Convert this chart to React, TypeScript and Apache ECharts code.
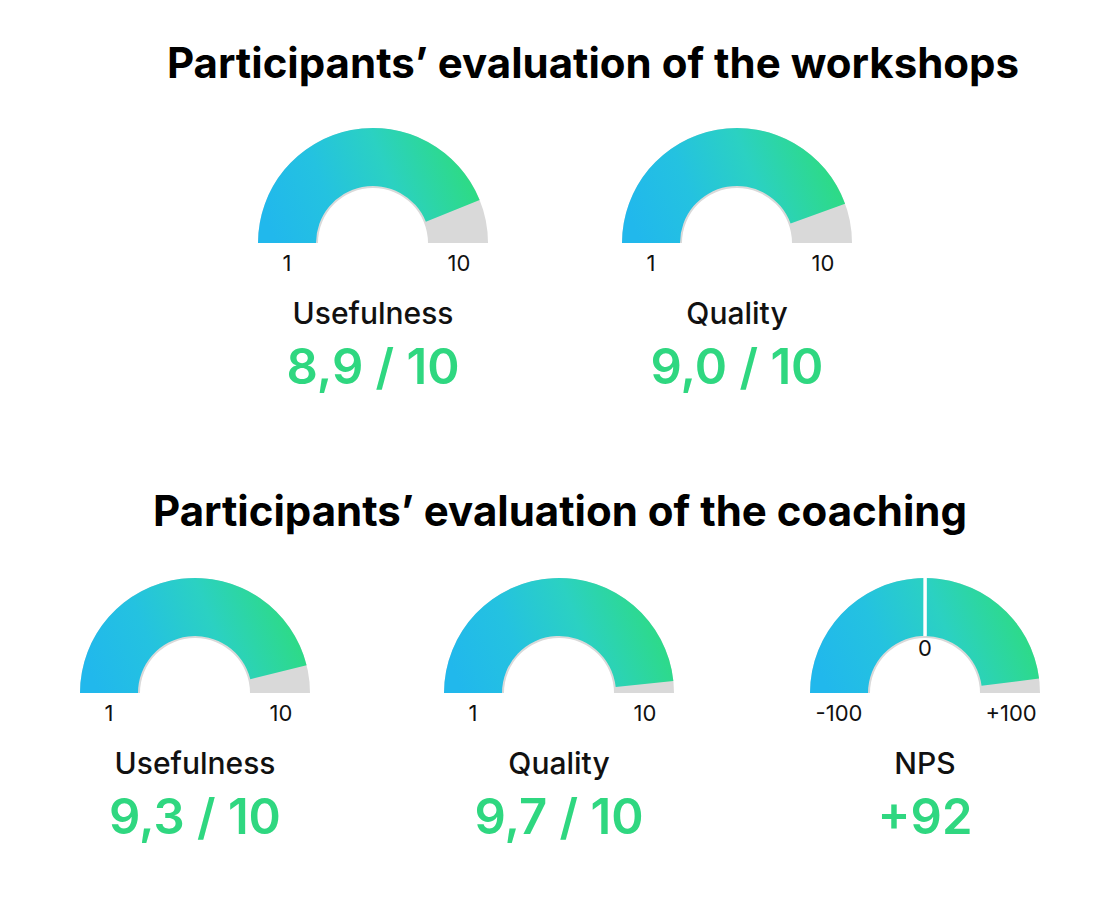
import React, { useEffect, useRef } from "react";
import * as echarts from "echarts";

const sectionTitles = ["Participants’ evaluation of the workshops", "Participants’ evaluation of the coaching"];
const gaugeNames = ["Usefulness", "Quality", "Usefulness", "Quality", "NPS"];
const gaugeValues = [8.9, 9.0, 9.3, 9.7, 92];
const gaugeMins = [1, 1, 1, 1, -100];
const gaugeMaxs = [10, 10, 10, 10, 100];
const minLabels = ["1", "1", "1", "1", "-100"];
const maxLabels = ["10", "10", "10", "10", "+100"];
const valueLabels = ["8,9 / 10", "9,0 / 10", "9,3 / 10", "9,7 / 10", "+92"];
const midLabels = ["", "", "", "", "0"];

// layout (positions)
const centers: [number, number][] = [
  [373, 243],
  [737, 243],
  [195, 693],
  [559, 693],
  [925, 693],
];
const R = 115;
const W = 58;
const GREEN = "#2fd780";
const FONT = "Inter, 'Noto Sans', sans-serif";

export default function App() {
  const ref = useRef<HTMLDivElement>(null);
  useEffect(() => {
    document.body.style.margin = "0";
    const chart = echarts.init(ref.current!, null, { renderer: "svg" });
    const series: any[] = [];
    const graphic: any[] = [];
    gaugeValues.forEach((v, i) => {
      const [cx, cy] = centers[i];
      series.push({
        type: "gauge",
        center: [cx, cy],
        radius: R,
        startAngle: 180,
        endAngle: 0,
        min: gaugeMins[i],
        max: gaugeMaxs[i],
        pointer: { show: false },
        axisLine: { lineStyle: { width: W + 2, color: [[1, "#d9d9d9"]] } },
        progress: {
          show: true,
          width: W,
          itemStyle: {
            color: new echarts.graphic.LinearGradient(0, 0.6, 1, 0.4, [
              { offset: 0, color: "#21b8ec" },
              { offset: 0.3, color: "#24c2e0" },
              { offset: 0.6, color: "#2bd1c2" },
              { offset: 1, color: "#2edc7c" },
            ]),
          },
        },
        axisTick: { show: false },
        splitLine: { show: false },
        axisLabel: { show: false },
        title: { show: false },
        detail: { show: false },
        data: [{ value: v, name: gaugeNames[i] }],
      });
      if (midLabels[i]) {
        series.push({
          type: "gauge",
          z: 5,
          center: [cx, cy],
          radius: R,
          startAngle: 90,
          endAngle: 89.9,
          min: 0,
          max: 1,
          splitNumber: 1,
          pointer: { show: false },
          axisLine: { show: true, lineStyle: { width: 0, color: [[1, "rgba(0,0,0,0)"]] } },
          axisTick: { show: false },
          splitLine: { show: true, length: W, distance: 0, lineStyle: { color: "#ffffff", width: 3 } },
          axisLabel: { show: false },
          title: { show: false },
          detail: { show: false },
          data: [],
        });
        graphic.push({
          type: "text",
          x: cx,
          y: cy - 45,
          style: { text: midLabels[i], font: `400 22px ${FONT}`, fill: "#111", align: "center", verticalAlign: "middle" },
        });
      }
      const mid = R - W / 2;
      graphic.push({
        type: "text",
        x: cx - mid,
        y: cy + 20,
        style: { text: minLabels[i], font: `400 22px ${FONT}`, fill: "#111", align: "center", verticalAlign: "middle" },
      });
      graphic.push({
        type: "text",
        x: cx + mid,
        y: cy + 20,
        style: { text: maxLabels[i], font: `400 22px ${FONT}`, fill: "#111", align: "center", verticalAlign: "middle" },
      });
      graphic.push({
        type: "text",
        x: cx,
        y: cy + 70,
        style: { text: gaugeNames[i], font: `500 30px ${FONT}`, fill: "#111", align: "center", verticalAlign: "middle" },
      });
      graphic.push({
        type: "text",
        x: cx,
        y: cy + 123,
        style: { text: valueLabels[i], font: `600 49px ${FONT}`, fill: GREEN, align: "center", verticalAlign: "middle" },
      });
    });
    graphic.push({
      type: "text",
      x: 593,
      y: 62,
      style: { text: sectionTitles[0], font: `700 42px ${FONT}`, fill: "#000", align: "center", verticalAlign: "middle" },
    });
    graphic.push({
      type: "text",
      x: 560,
      y: 510,
      style: { text: sectionTitles[1], font: `700 42px ${FONT}`, fill: "#000", align: "center", verticalAlign: "middle" },
    });
    chart.setOption({
      animation: false,
      backgroundColor: "#ffffff",
      series,
      graphic,
    });
    return () => chart.dispose();
  }, []);
  return <div ref={ref} style={{ width: 1120, height: 908 }} />;
}
